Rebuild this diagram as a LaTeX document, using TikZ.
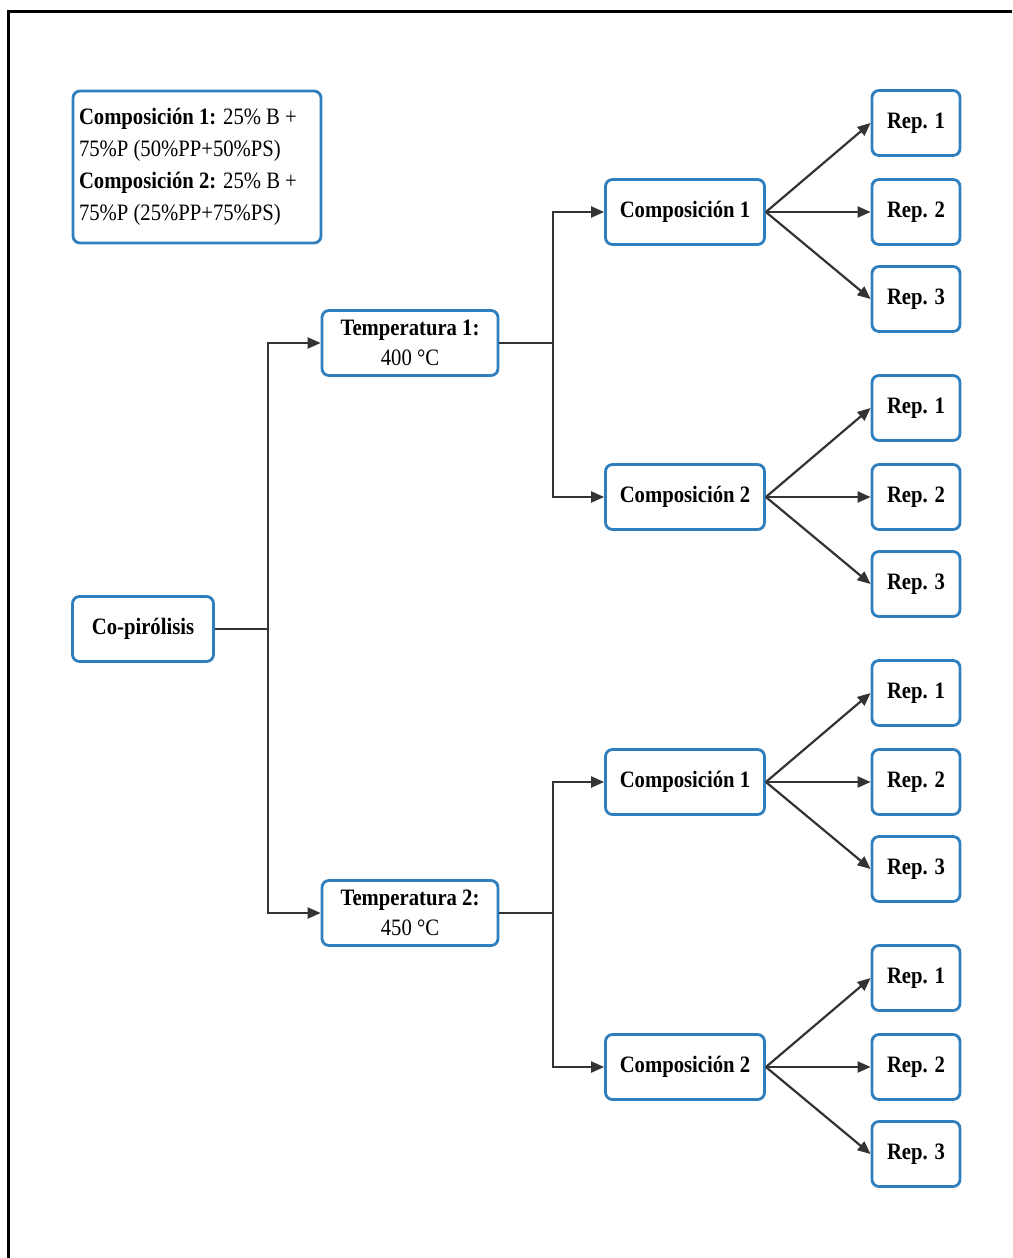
\documentclass[tikz,border=0pt]{standalone}
\usepackage{fontspec}
\setmainfont[FakeStretch=0.88]{Liberation Serif}
\usetikzlibrary{arrows.meta}
\definecolor{boxblue}{HTML}{2F7FBF}
\definecolor{linegray}{HTML}{333333}
\tikzset{
  box/.style={draw=boxblue, line width=2.8pt, rounded corners=7pt, fill=white,
    inner sep=0pt, align=center, font=\fontsize{23.5}{30}\selectfont},
  repbox/.style={box, minimum width=88pt, minimum height=65pt},
  compbox/.style={box, minimum width=159pt, minimum height=65pt},
  tempbox/.style={box, minimum width=176pt, minimum height=65pt},
  conn/.style={draw=linegray, line width=2.2pt},
  arr/.style={conn, -{Triangle[length=13pt,width=11pt]}},
}
\begin{document}
\begin{tikzpicture}[x=1pt,y=-1pt]
\useasboundingbox (0,0) rectangle (1012,1258);
\draw[line width=3pt, black] (8,1258) -- (8,11) -- (1012,11);

% legend
\node[box, minimum width=248pt, minimum height=152pt, inner xsep=5pt, text width=236pt, align=flush left, font=\fontsize{23.5}{32}\selectfont] (legend) at (197,167)
  {\textbf{Composición 1:} 25\% B +\\75\%P (50\%PP+50\%PS)\\\textbf{Composición 2:} 25\% B +\\75\%P (25\%PP+75\%PS)};

% main
\node[box, minimum width=141pt, minimum height=65pt] (cop) at (143,629) {\textbf{Co-pirólisis}};
\node[tempbox] (t1) at (410,343) {\textbf{Temperatura 1:}\\400 °C};
\node[tempbox] (t2) at (410,913) {\textbf{Temperatura 2:}\\450 °C};

\node[compbox] (c11) at (685,212) {\textbf{Composición 1}};
\node[compbox] (c12) at (685,497) {\textbf{Composición 2}};
\node[compbox] (c21) at (685,782) {\textbf{Composición 1}};
\node[compbox] (c22) at (685,1067) {\textbf{Composición 2}};

\foreach \c/\y in {c11/212, c12/497, c21/782, c22/1067}{
  \node[repbox] (\c r1) at (916,\y-89) {\textbf{Rep. 1}};
  \node[repbox] (\c r2) at (916,\y) {\textbf{Rep. 2}};
  \node[repbox] (\c r3) at (916,\y+87) {\textbf{Rep. 3}};
  \draw[arr] (\c.east) -- (\c r1.west);
  \draw[arr] (\c.east) -- (\c r2.west);
  \draw[arr] (\c.east) -- (\c r3.west);
}

\coordinate (j0) at (268,629);
\coordinate (j1) at (553,343);
\coordinate (j2) at (553,913);
\draw[conn] (cop.east) -- (j0);
\draw[arr] (j0) |- (t1.west);
\draw[arr] (j0) |- (t2.west);
\draw[conn] (t1.east) -- (j1);
\draw[arr] (j1) |- (c11.west);
\draw[arr] (j1) |- (c12.west);
\draw[conn] (t2.east) -- (j2);
\draw[arr] (j2) |- (c21.west);
\draw[arr] (j2) |- (c22.west);
\end{tikzpicture}
\end{document}
